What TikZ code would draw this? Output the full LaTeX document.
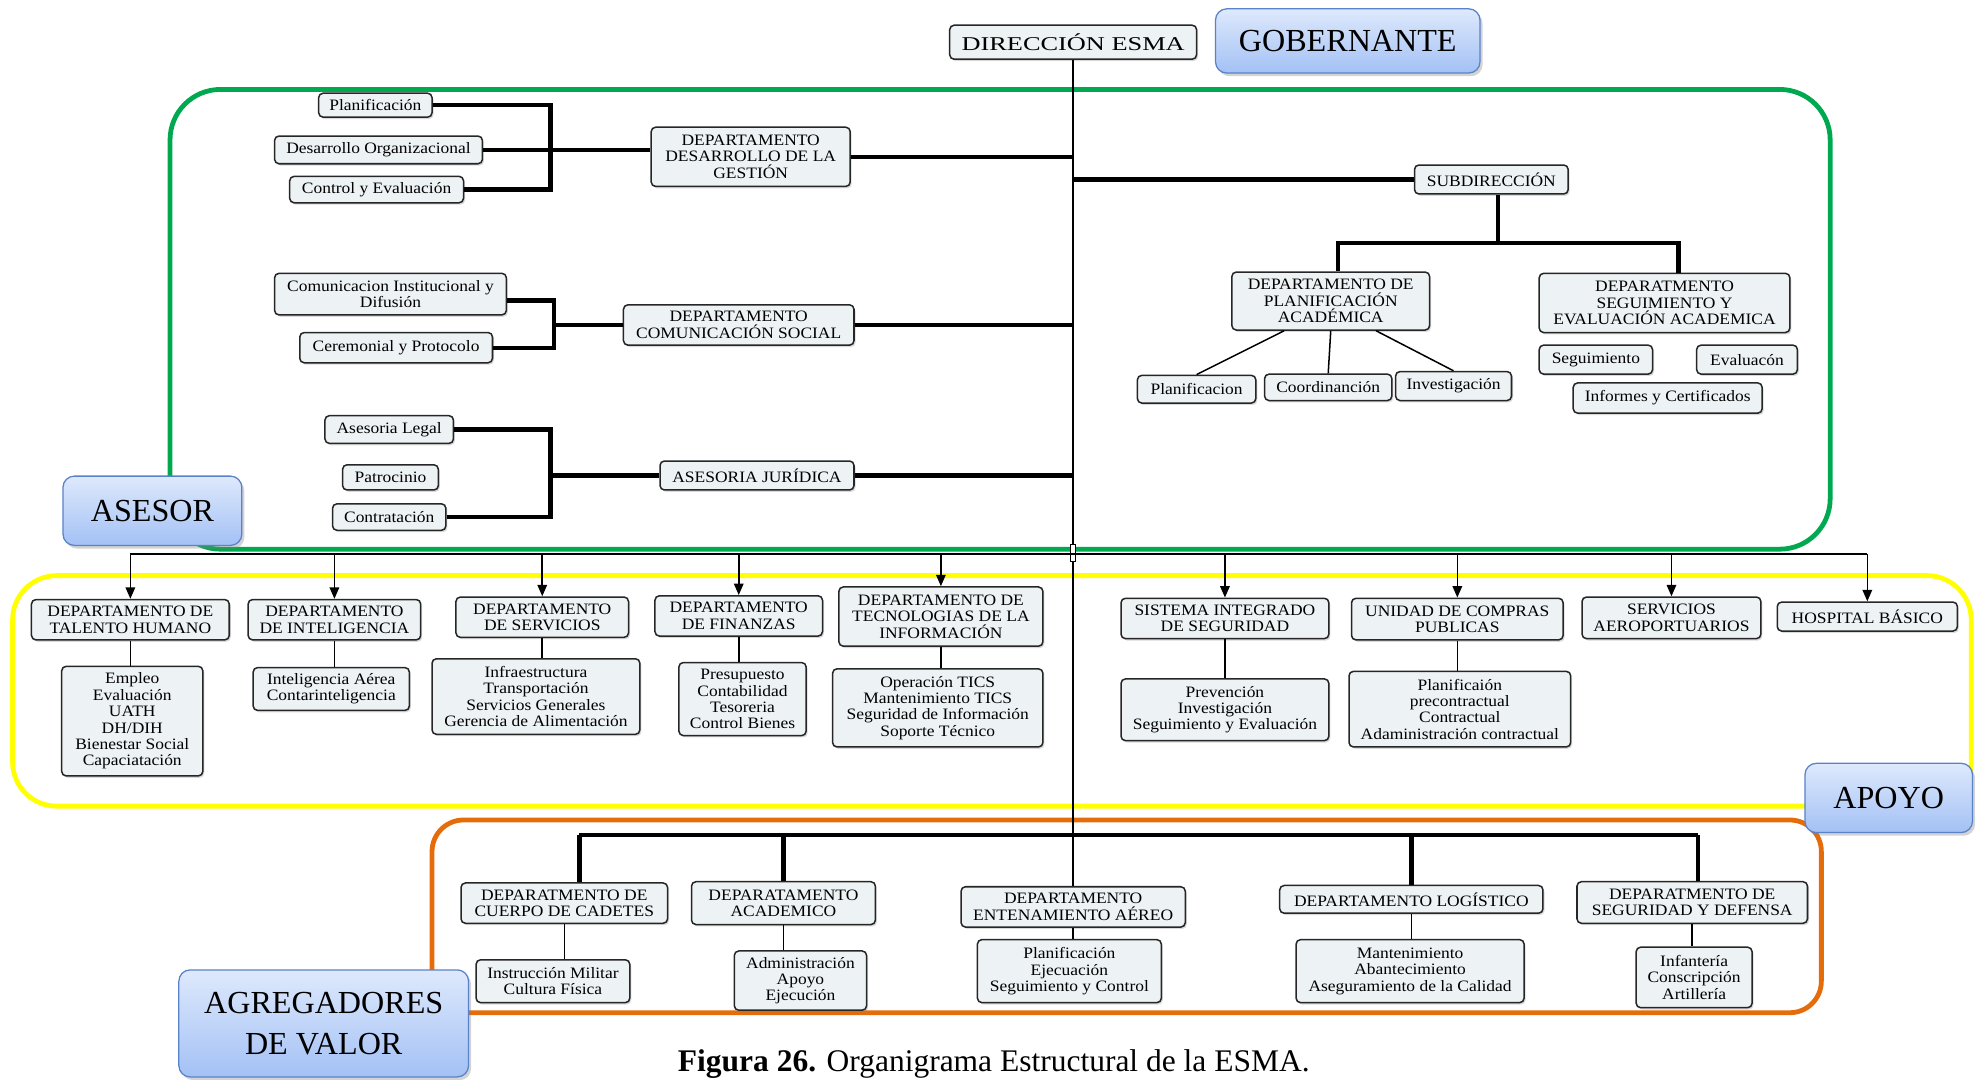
\documentclass[tikz,border=0pt]{standalone}
\usepackage{fontspec}
\setmainfont{Liberation Serif}
\newfontfamily\cf[FakeStretch=1.1]{Liberation Serif}
\newfontfamily\cfw[FakeStretch=1.35]{Liberation Serif}
\usetikzlibrary{arrows.meta,shadows,calc}
\definecolor{boxfill}{RGB}{237,242,245}
\definecolor{grn}{RGB}{0,168,80}
\definecolor{ylw}{RGB}{255,255,0}
\definecolor{org}{RGB}{228,108,10}
\definecolor{labtop}{RGB}{222,233,252}
\definecolor{labbot}{RGB}{163,193,245}
\definecolor{labdraw}{RGB}{90,130,200}
\begin{document}
\begin{tikzpicture}[x=1pt,y=-1pt,
  bx/.style={draw=black!85, line width=1.2pt, rounded corners=3.5pt, fill=boxfill, align=center, inner sep=0pt,
     font=\cf\fontsize{12.6}{13}\selectfont, drop shadow={opacity=0.3, shadow xshift=1.2pt, shadow yshift=-1.5pt}},
  wh/.style 2 args={minimum width=#1pt, minimum height=#2pt},
  lab/.style={draw=labdraw, line width=1pt, rounded corners=9pt, top color=labtop, bottom color=labbot, align=center,
     inner sep=0pt, font=\fontsize{25.5}{33}\selectfont, drop shadow={opacity=0.35, shadow xshift=2pt, shadow yshift=-2.5pt}},
  tk/.style={line width=3.4pt, black},
  tn/.style={line width=1.2pt, black},
  arr/.style={tn, -{Triangle[length=9pt,width=7.5pt]}},
  frame/.style={line width=3.8pt}
]
\useasboundingbox (0,0) rectangle (1568,857);

% group frames
\draw[frame, draw=grn, rounded corners=40pt] (135,71) rectangle (1453,436);
\draw[frame, draw=ylw, rounded corners=35pt] (10,457) rectangle (1565,640);
\draw[frame, draw=org, rounded corners=25pt] (343,651) rectangle (1446,804);

% top
\node[bx, wh={196}{27}, font=\cfw\fontsize{15.5}{16}\selectfont] (dir) at (852,33.5) {DIRECCIÓN ESMA};
\node[lab, wh={210}{51}] (gob) at (1070,32.5) {GOBERNANTE};

% asesor - left
\node[bx, wh={90}{19}] (plan1) at (298,83.5) {Planificación};
\node[bx, wh={165}{22}] (desorg) at (300.5,119) {Desarrollo Organizacional};
\node[bx, wh={138}{21}] (ctrl) at (299,150.5) {Control y Evaluación};
\node[bx, wh={158}{47}] (dg) at (596,124.5) {DEPARTAMENTO\\DESARROLLO DE LA\\GESTIÓN};

\node[bx, wh={184}{33}] (com) at (310,233.5) {Comunicacion Institucional y\\Difusión};
\node[bx, wh={153}{24}] (cer) at (314.5,276) {Ceremonial y Protocolo};
\node[bx, wh={183}{32}] (cs) at (586.5,258) {DEPARTAMENTO\\COMUNICACIÓN SOCIAL};

\node[bx, wh={102}{22}] (leg) at (309,341) {Asesoria Legal};
\node[bx, wh={76}{20}] (pat) at (310,379) {Patrocinio};
\node[bx, wh={90}{21}] (con) at (309,410.5) {Contratación};
\node[bx, wh={154}{23}] (aj) at (601,377.5) {ASESORIA JURÍDICA};

% asesor - right
\node[bx, wh={122}{23}] (sub) at (1184,142.5) {SUBDIRECCIÓN};
\node[bx, wh={157}{46}] (dpa) at (1056.5,239) {DEPARTAMENTO DE\\PLANIFICACIÓN\\ACADÉMICA};
\node[bx, wh={199}{47}] (dse) at (1321.5,240.5) {DEPARATMENTO\\SEGUIMIENTO Y\\EVALUACIÓN ACADEMICA};
\node[bx, wh={94}{22}] (p1) at (950,309) {Planificacion};
\node[bx, wh={101}{21}] (p2) at (1054.5,307.5) {Coordinanción};
\node[bx, wh={92}{23}] (p3) at (1154,306.5) {Investigación};
\node[bx, wh={90}{23}] (s1) at (1267,285.5) {Seguimiento};
\node[bx, wh={80}{23}] (s2) at (1387,285.5) {Evaluacón};
\node[bx, wh={150}{24}] (s3) at (1324,316) {Informes y Certificados};

% apoyo
\node[bx, wh={157}{32}] (th) at (103.5,492) {DEPARTAMENTO DE\\TALENTO HUMANO};
\node[bx, wh={112}{87}] (ths) at (105,572.5) {Empleo\\Evaluación\\UATH\\DH/DIH\\Bienestar Social\\Capaciatación};
\node[bx, wh={137}{32}] (int) at (265.5,492) {DEPARTAMENTO\\DE INTELIGENCIA};
\node[bx, wh={124}{34}] (ints) at (263,547) {Inteligencia Aérea\\Contarinteligencia};
\node[bx, wh={137}{32}] (ser) at (430.5,490) {DEPARTAMENTO\\DE SERVICIOS};
\node[bx, wh={165}{60}] (sers) at (425.5,553) {Infraestructura\\Transportación\\Servicios Generales\\Gerencia de Alimentación};
\node[bx, wh={133}{32}] (fin) at (586.5,489) {DEPARTAMENTO\\DE FINANZAS};
\node[bx, wh={101}{58}] (fins) at (589.5,555) {Presupuesto\\Contabilidad\\Tesoreria\\Control Bienes};
\node[bx, wh={162}{47}] (tec) at (747,489.5) {DEPARTAMENTO DE\\TECNOLOGIAS DE LA\\INFORMACIÓN};
\node[bx, wh={167}{62}] (tecs) at (744.5,562) {Operación TICS\\Mantenimiento TICS\\Seguridad de Información\\Soporte Técnico};
\node[bx, wh={165}{32}] (sis) at (972.5,491) {SISTEMA INTEGRADO\\DE SEGURIDAD};
\node[bx, wh={165}{49}] (siss) at (972.5,563.5) {Prevención\\Investigación\\Seguimiento y Evaluación};
\node[bx, wh={168}{33}] (ucp) at (1157,491.5) {UNIDAD DE COMPRAS\\PUBLICAS};
\node[bx, wh={176}{60}] (ucps) at (1159,563) {Planificaión\\precontractual\\Contractual\\Adaministración contractual};
\node[bx, wh={142}{33}] (sa) at (1327,490.5) {SERVICIOS\\AEROPORTUARIOS};
\node[bx, wh={143}{23}] (hb) at (1482.5,489.5) {HOSPITAL BÁSICO};

% agregadores de valor
\node[bx, wh={164}{32}] (cc) at (448,717) {DEPARATMENTO DE\\CUERPO DE CADETES};
\node[bx, wh={122}{34}] (ccs) at (439,779) {Instrucción Militar\\Cultura Física};
\node[bx, wh={146}{34}] (ac) at (622,717) {DEPARATAMENTO\\ACADEMICO};
\node[bx, wh={105}{47}] (acs) at (635.5,778.5) {Administración\\Apoyo\\Ejecución};
\node[bx, wh={178}{32}] (ent) at (852,720) {DEPARTAMENTO\\ENTENAMIENTO AÉREO};
\node[bx, wh={146}{50}] (ents) at (849,771) {Planificación\\Ejecuación\\Seguimiento y Control};
\node[bx, wh={209}{22}] (log) at (1120.5,714) {DEPARTAMENTO LOGÍSTICO};
\node[bx, wh={181}{50}] (logs) at (1119.5,771) {Mantenimiento\\Abantecimiento\\Aseguramiento de la Calidad};
\node[bx, wh={183}{33}] (sd) at (1343.5,716.5) {DEPARATMENTO DE\\SEGURIDAD Y DEFENSA};
\node[bx, wh={92}{48}] (sds) at (1345,776) {Infantería\\Conscripción\\Artillería};

% main vertical line
\draw[tn] (dir.south) -- (ent.north);
\node[draw, line width=0.6pt, fill=white, minimum width=4pt, minimum height=13pt, inner sep=0pt] (jn) at (852,439) {};

% asesor left connectors
\coordinate (b1) at (437,0);
\coordinate (b2) at (440,0);
\draw[tk] (plan1.east) -| (b1 |- ctrl.east) -- (ctrl.east);
\draw[tk] (desorg.east) -- (desorg.east -| dg.west);
\draw[tk] (dg.east) -- (dg.east -| dir.south);
\draw[tk] ([yshift=-5pt]com.east) -| (b2 |- cer.east) -- (cer.east);
\draw[tk] (b2 |- cs.west) -- (cs.west);
\draw[tk] (cs.east) -- (cs.east -| dir.south);
\draw[tk] (leg.east) -| (b1 |- con.east) -- (con.east);
\draw[tk] (b1 |- aj.west) -- (aj.west);
\draw[tk] (aj.east) -- (aj.east -| dir.south);

% asesor right connectors
\coordinate (subj) at (1189,193);
\draw[tk] (dir.south |- sub.west) -- (sub.west);
\draw[tk] (sub.south -| subj) -- (subj);
\draw[tk] ([xshift=6pt]dpa.north) |- (subj) -| ([xshift=11pt]dse.north);
\draw[tn] ([xshift=-37pt]dpa.south) -- (p1.north);
\draw[tn] (dpa.south) -- (p2.north);
\draw[tn] ([xshift=36pt]dpa.south) -- (p3.north);

% distribution to apoyo
\coordinate (dl) at (0,440);
\draw[tn] (th.north |- dl) -- (hb.north |- dl);
\foreach \n in {th,int,ser,fin,tec,sis,ucp,sa,hb}{
  \draw[arr] (\n.north |- dl) -- (\n.north);
}
\foreach \n in {th,int,ser,fin,tec,sis,ucp}{
  \draw[tn] (\n.south) -- (\n.south |- \n s.north);
}

% agregadores connectors
\coordinate (barL) at (460,663);
\coordinate (barR) at (1348,663);
\draw[tk] (barL) -- (barR);
\draw[tk] (barL) -- (barL |- cc.north);
\draw[tk] (ac.north |- barL) -- (ac.north);
\draw[tk] (log.north |- barL) -- (log.north);
\draw[tk] (barR) -- (barR |- sd.north);
\foreach \n in {cc,ac,ent,log,sd}{
  \draw[tn] (\n.south) -- (\n.south |- \n s.north);
}

% group labels
\node[lab, wh={142}{55}] (asesor) at (121,405.5) {ASESOR};
\node[lab, wh={133}{55}] (apoyo) at (1499.5,633.5) {APOYO};
\node[lab, wh={230}{85}] (agreg) at (257,812.5) {AGREGADORES\\DE VALOR};

% caption
\node[font=\fontsize{25}{30}\selectfont, inner sep=0pt] (cap) at (789,845) {\textbf{Figura 26.} Organigrama Estructural de la ESMA.};
\end{tikzpicture}
\end{document}
